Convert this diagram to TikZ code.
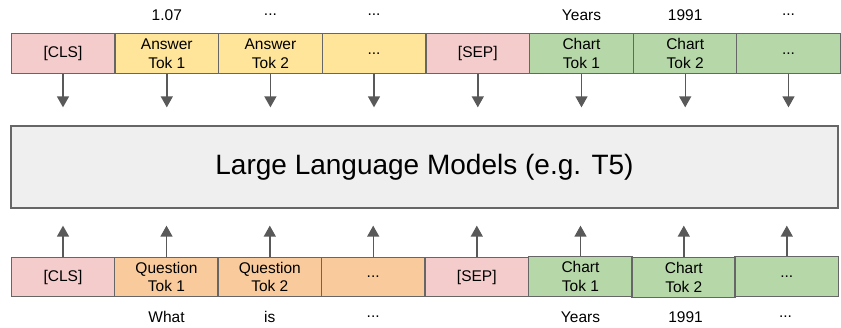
\documentclass[tikz,border=0pt]{standalone}
\usepackage{fontspec}
\setmainfont{Liberation Sans}
\usetikzlibrary{arrows.meta}
\definecolor{bordc}{HTML}{666666}
\definecolor{arrc}{HTML}{595959}
\definecolor{pinkc}{HTML}{F4CCCC}
\definecolor{yelc}{HTML}{FFE599}
\definecolor{orc}{HTML}{F9CB9C}
\definecolor{grc}{HTML}{B6D7A8}
\definecolor{llmc}{HTML}{EFEFEF}
\tikzset{
  tok/.style={draw=bordc, line width=1.3pt, minimum width=103.6pt, minimum height=39.5pt, inner sep=0pt, align=center, font=\fontsize{15.5}{18.5}\selectfont},
  lbl/.style={font=\fontsize{15.5}{18.5}\selectfont, inner sep=0pt},
  arr/.style={draw=arrc, line width=1.4pt, -{Triangle[width=12pt,length=11pt]}},
}
\begin{document}
\begin{tikzpicture}[x=1pt,y=-1pt]
\useasboundingbox (0,0) rectangle (841,328);
% top row
\node[tok, fill=pinkc] (a1) at (63,53.5) {[CLS]};
\node[tok, fill=yelc] (a2) at (166.8,53.5) {Answer\\Tok 1};
\node[tok, fill=yelc] (a3) at (270.4,53.5) {Answer\\Tok 2};
\node[tok, fill=yelc] (a4) at (374,53.5) {...};
\node[tok, fill=pinkc] (a5) at (477.8,53.5) {[SEP]};
\node[tok, fill=grc] (a6) at (581.5,53.5) {Chart\\Tok 1};
\node[tok, fill=grc] (a7) at (685.2,53.5) {Chart\\Tok 2};
\node[tok, fill=grc] (a8) at (788.5,53.5) {...};
% top labels
\node[lbl] (la2) at (166.8,15) {1.07};
\node[lbl] (la3) at (270.4,15) {...};
\node[lbl] (la4) at (374,15) {...};
\node[lbl] (la6) at (581.5,15) {Years};
\node[lbl] (la7) at (685.2,15) {1991};
\node[lbl] (la8) at (788.5,15) {...};
% LLM
\node[draw=bordc, line width=1.3pt, fill=llmc, minimum width=827pt, minimum height=82pt, inner sep=0pt, font=\fontsize{28}{32}\selectfont] (llm) at (424.5,167) {Large Language Models (e.g. T5)};
% bottom row
\node[tok, fill=pinkc] (b1) at (63,277) {[CLS]};
\node[tok, fill=orc] (b2) at (166.5,277) {Question\\Tok 1};
\node[tok, fill=orc] (b3) at (269.8,277) {Question\\Tok 2};
\node[tok, fill=orc] (b4) at (373.2,277) {...};
\node[tok, fill=pinkc] (b5) at (476.8,277) {[SEP]};
\node[tok, fill=grc] (b6) at (580.5,276.5) {Chart\\Tok 1};
\node[tok, fill=grc] (b7) at (683.8,277.5) {Chart\\Tok 2};
\node[tok, fill=grc] (b8) at (786.8,276.5) {...};
% bottom labels
\node[lbl] (lb2) at (166.5,317) {What};
\node[lbl] (lb3) at (269.8,317) {is};
\node[lbl] (lb4) at (373.2,317) {...};
\node[lbl] (lb6) at (580.5,317) {Years};
\node[lbl] (lb7) at (685.5,317) {1991};
\node[lbl] (lb8) at (785.5,317) {...};
% arrows
\foreach \i in {1,...,8} {
  \draw[arr, shorten >=18pt] (a\i.south) -- (a\i.south |- llm.north);
  \draw[arr, shorten >=17pt] (b\i.north) -- (b\i.north |- llm.south);
}
\end{tikzpicture}
\end{document}
